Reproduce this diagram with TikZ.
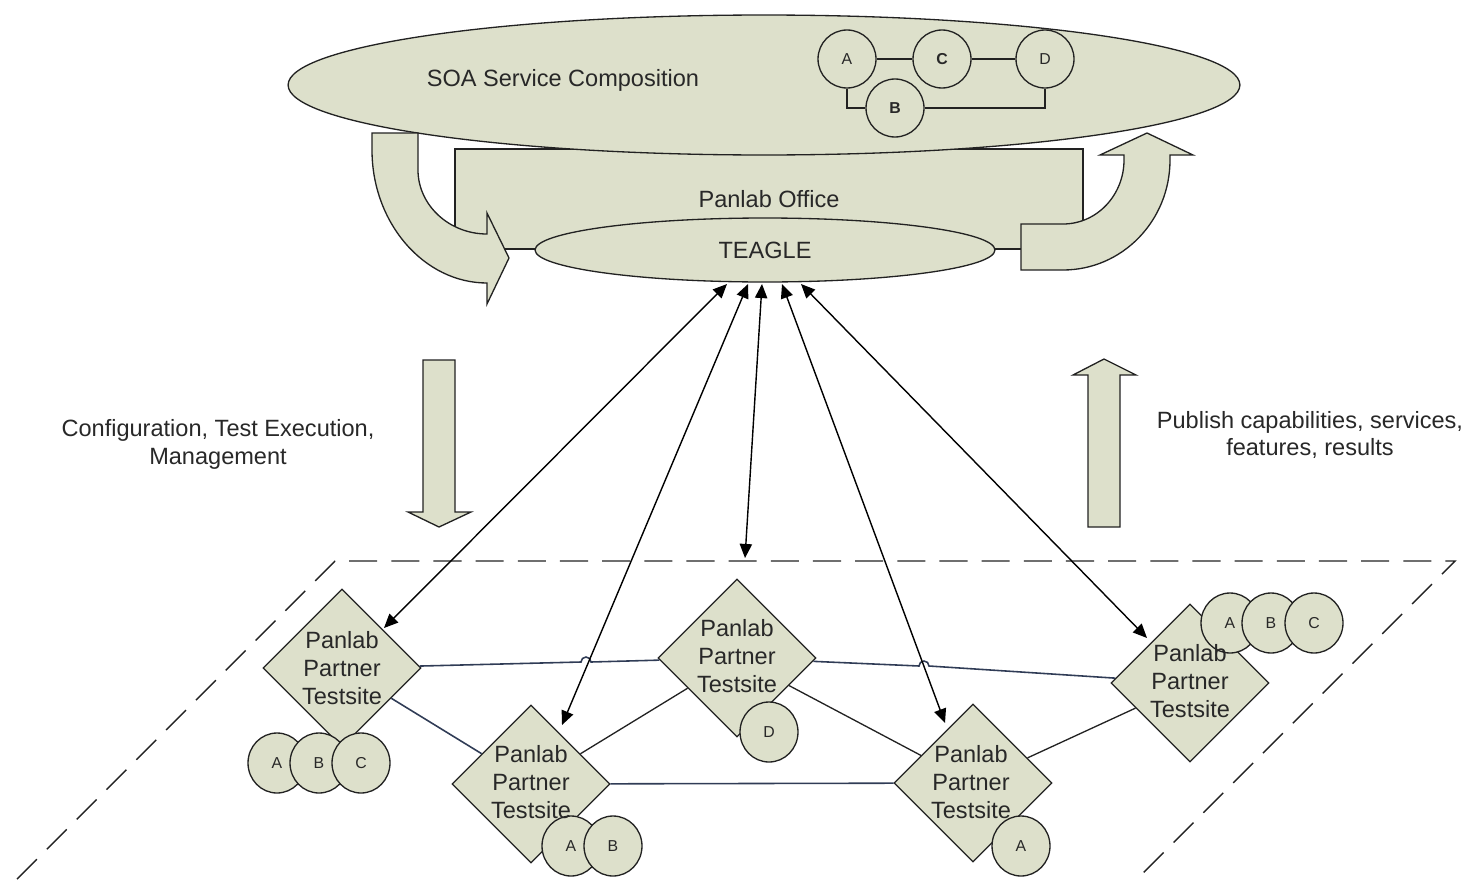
\documentclass[tikz,border=0pt]{standalone}
\usepackage{fontspec}
\setmainfont{Liberation Sans}
\usetikzlibrary{shapes.geometric,arrows.meta}
\definecolor{fillc}{RGB}{221,224,203}
\definecolor{linec}{RGB}{34,34,34}
\definecolor{navy}{RGB}{48,60,86}
\definecolor{txt}{RGB}{40,40,40}
\begin{document}
\begin{tikzpicture}[x=0.02cm,y=-0.02cm,
  shapebox/.style={draw=linec, fill=fillc, line width=0.75pt, line join=miter},
  ell/.style={shapebox, ellipse, inner sep=0pt},
  lbl/.style={text=txt, font=\fontsize{13.4}{15.9}\selectfont, align=center, inner sep=0pt},
  dia/.style={shapebox, diamond, minimum width=3.16cm, minimum height=3.16cm, inner sep=0pt},
  svc/.style={ell, minimum width=1.16cm, minimum height=1.2cm, font=\fontsize{9}{10}\selectfont, text=txt},
  topsvc/.style={ell, minimum width=1.16cm, minimum height=1.16cm, font=\fontsize{9}{10}\selectfont, text=txt},
  conn/.style={draw=navy, line width=0.9pt},
  conk/.style={draw=linec, line width=0.75pt},
  biarrow/.style={draw=black, line width=0.8pt, {Triangle[length=8pt,width=7pt]}-{Triangle[length=8pt,width=7pt]}},
  dashline/.style={draw=linec, line width=0.8pt, dash pattern=on 16pt off 8pt},
]
\useasboundingbox (0,0) rectangle (1474,879);

% Panlab Office box
\node[shapebox, lbl, minimum width=12.56cm, minimum height=2cm] (office) at (769,199) {Panlab Office};

% SOA ellipse
\node[ell, minimum width=19.04cm, minimum height=2.8cm] (soa) at (764,85) {};
\node[lbl] (soatext) at (563,80) {SOA Service Composition};

% composition inside SOA
\node[topsvc] (ta) at (847,59) {A};
\node[topsvc, font={\fontsize{9}{10}\selectfont\bfseries}] (tc) at (942,59) {C};
\node[topsvc] (td) at (1045,59) {D};
\node[topsvc, font={\fontsize{9}{10}\selectfont\bfseries}] (tb) at (895,108) {B};
\draw[conk] (ta) -- (tc);
\draw[conk] (tc) -- (td);
\draw[conk] (ta.south) |- (tb.west);
\draw[conk] (tb.east) -| (td.south);

% curved arrow left
\draw[shapebox] (372,133) -- (418,133) -- (418,170)
  .. controls (418,205) and (449,234) .. (487,234)
  -- (487,213) -- (509,258) -- (487,304) -- (487,283)
  .. controls (424,283) and (372,223) .. (372,150) -- cycle;

% curved arrow right
\draw[shapebox] (1021,224) -- (1063,224)
  .. controls (1097,224) and (1124,195) .. (1124,160)
  -- (1124,155) -- (1100,155) -- (1147,133) -- (1193,155) -- (1170,155) -- (1170,160)
  .. controls (1170,221) and (1122,270) .. (1063,270)
  -- (1021,270) -- cycle;

% TEAGLE
\node[ell, lbl, minimum width=9.2cm, minimum height=1.28cm] (teagle) at (765,250) {TEAGLE};

% vertical block arrows
\draw[shapebox] (423,360) -- (455,360) -- (455,512) -- (471,512) -- (439,527) -- (408,512) -- (423,512) -- cycle;
\draw[shapebox] (1088,527) -- (1120,527) -- (1120,375) -- (1136,375) -- (1104,359) -- (1073,375) -- (1088,375) -- cycle;

\node[lbl] (cfg) at (218,444) {Configuration, Test Execution,\\Management};
\node[lbl] (pub) at (1310,435) {Publish capabilities, services,\\features, results};

% dashed plane
\draw[dashline] (17,879) -- (335,561) -- (1455,561) -- (1137,879);

% testsites
\node[dia] (p1) at (342,668) {};
\node[dia] (p2) at (531,784) {};
\node[dia] (p3) at (737,658) {};
\node[dia] (p4) at (973,783) {};
\node[dia] (p5) at (1190,683) {};

% connectors between testsites
\coordinate (h1a) at (581,662);
\coordinate (h2a) at (919,666);
\draw[conn] (p1) -- (h1a) arc[start angle=180,end angle=0,radius=0.1cm] -- (p3);
\draw[conn] (p3) -- (h2a) arc[start angle=180,end angle=0,radius=0.1cm] -- (p5);
\draw[conn] (p1) -- (p2);
\draw[conk] (p2) -- (p3);
\draw[conk] (p3) -- (p4);
\draw[conn] (p2) -- (p4);
\draw[conk] (p4) -- (p5);

% services at testsites
\node[svc] (c1a) at (277,763) {A};
\node[svc] (c1b) at (319,763) {B};
\node[svc] (c1c) at (361,763) {C};
\node[svc] (c2a) at (571,846) {A};
\node[svc] (c2b) at (613,846) {B};
\node[svc] (c3d) at (769,732) {D};
\node[svc] (c4a) at (1021,846) {A};
\node[svc] (c5a) at (1230,623) {A};
\node[svc] (c5b) at (1271,623) {B};
\node[svc] (c5c) at (1314,623) {C};

% testsite labels
\node[lbl] (l1) at (342,668) {Panlab\\Partner\\Testsite};
\node[lbl] (l2) at (531,782) {Panlab\\Partner\\Testsite};
\node[lbl] (l3) at (737,656) {Panlab\\Partner\\Testsite};
\node[lbl] (l4) at (971,782) {Panlab\\Partner\\Testsite};
\node[lbl] (l5) at (1190,681) {Panlab\\Partner\\Testsite};

% arrows from TEAGLE
\coordinate (t1) at (727,284);
\coordinate (t2) at (748,284);
\coordinate (t3) at (762,284);
\coordinate (t4) at (782,284);
\coordinate (t5) at (801,284);
\coordinate (e1) at (384,628);
\coordinate (e2) at (562,725);
\coordinate (e3) at (745,558);
\coordinate (e4) at (945,723);
\coordinate (e5) at (1147,638);
\draw[biarrow] (t1) -- (e1);
\draw[biarrow] (t2) -- (e2);
\draw[biarrow] (t3) -- (e3);
\draw[biarrow] (t4) -- (e4);
\draw[biarrow] (t5) -- (e5);
\end{tikzpicture}
\end{document}
